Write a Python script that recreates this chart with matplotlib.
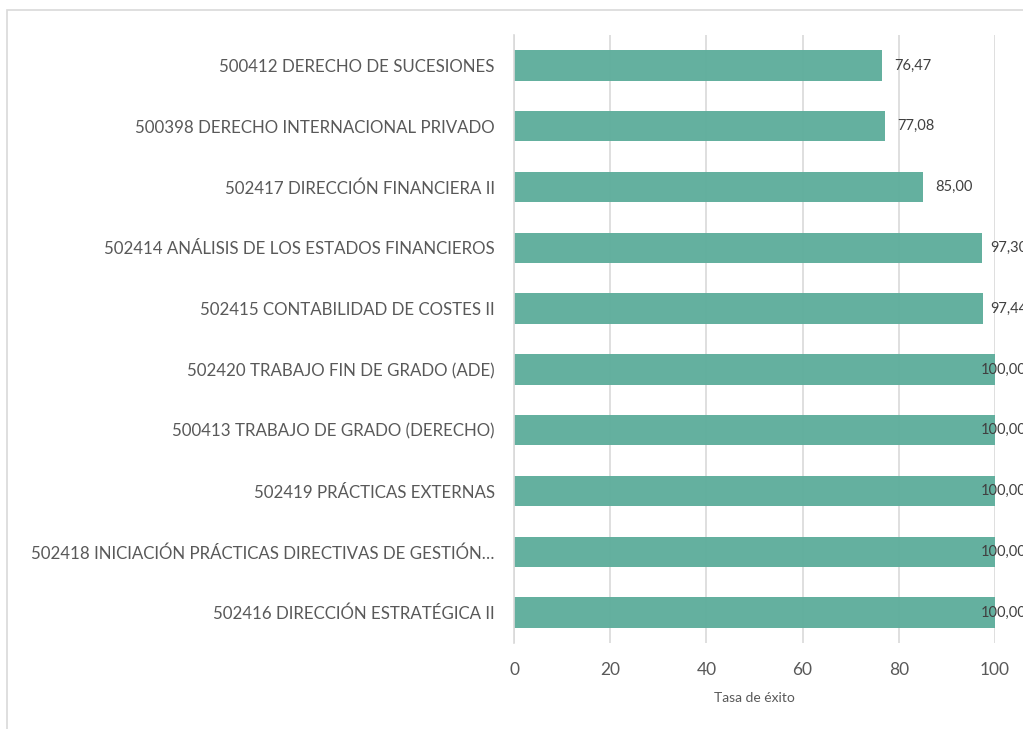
import matplotlib
matplotlib.use("Agg")
import matplotlib.pyplot as plt
from matplotlib.patches import Rectangle

categories = [
    "500412 DERECHO DE SUCESIONES",
    "500398 DERECHO INTERNACIONAL PRIVADO",
    "502417 DIRECCIÓN FINANCIERA II",
    "502414 ANÁLISIS DE LOS ESTADOS FINANCIEROS",
    "502415 CONTABILIDAD DE COSTES II",
    "502420 TRABAJO FIN DE GRADO (ADE)",
    "500413 TRABAJO DE GRADO (DERECHO)",
    "502419 PRÁCTICAS EXTERNAS",
    "502418 INICIACIÓN PRÁCTICAS DIRECTIVAS DE GESTIÓN…",
    "502416 DIRECCIÓN ESTRATÉGICA II",
]
values = [76.47, 77.08, 85.00, 97.30, 97.44, 100.00, 100.00, 100.00, 100.00, 100.00]
xticks = [0, 20, 40, 60, 80, 100]
xlabel = "Tasa de éxito"

plt.rcParams['font.family'] = ['Lato', 'DejaVu Sans']
TEXT = "#595959"
W, H = 1023, 729
fig = plt.figure(figsize=(W/100, H/100), dpi=100)
fig.patches.append(Rectangle((7/W, -0.2), 1.2, 1 - 10/H + 0.2, transform=fig.transFigure,
                             fill=False, edgecolor="#d9d9d9", linewidth=1.2, figure=fig))
ax = fig.add_axes([514/W, 1 - 643/H, (995-514)/W, (643-35)/H])
ypos = list(range(len(categories)))
ax.barh(ypos, values, height=0.5, color="#5fae9c", alpha=0.97, zorder=3)
ax.set_ylim(len(categories) - 0.5, -0.5)
ax.set_xlim(0, 100)
ax.set_yticks(ypos)
ax.set_yticklabels(categories, fontsize=12.2, color=TEXT)
ax.set_xticks(xticks)
ax.set_xticklabels([str(t) for t in xticks], fontsize=12.5, color=TEXT)
ax.tick_params(axis='both', length=0)
ax.tick_params(axis='y', pad=14)
ax.tick_params(axis='x', pad=14)
ax.set_xlabel(xlabel, fontsize=10, color=TEXT, labelpad=10)
ax.grid(axis='x', color="#d9d9d9", linewidth=1.2, zorder=0)
for s in ['top', 'right', 'bottom']:
    ax.spines[s].set_visible(False)
ax.spines['left'].set_color("#d9d9d9")
ax.spines['left'].set_linewidth(1.2)
ax.spines['left'].set_zorder(4)

texts = []
for y, v in zip(ypos, values):
    t = ax.annotate(f"{v:.2f}".replace(".", ","), xy=(v, y), xytext=(9, 0), textcoords='offset points',
                    ha='left', va='center', fontsize=10.5, color="#404040", zorder=5,
                    annotation_clip=False)
    texts.append(t)
fig.canvas.draw()
r = fig.canvas.get_renderer()
limit = 1027
for t in texts:
    bb = t.get_window_extent(r)
    if bb.x1 > limit:
        t.xyann = (t.xyann[0] - (bb.x1 - limit) * 72 / 100, 0)
fig.savefig("out.png", dpi=100)
